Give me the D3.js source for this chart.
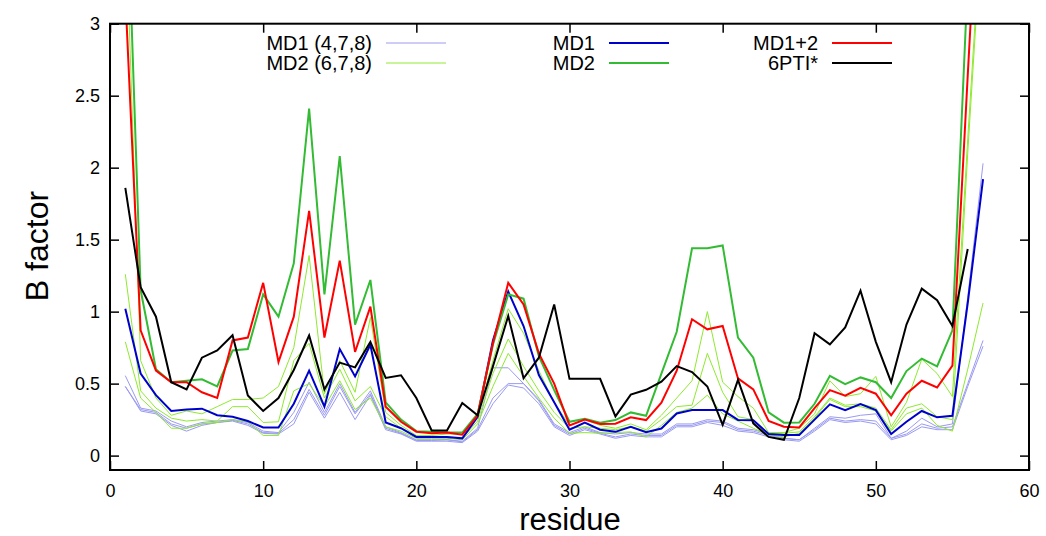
<!DOCTYPE html>
<html>
<head>
<meta charset="utf-8">
<script src="https://cdn.jsdelivr.net/npm/d3@7"></script>
<style>
  body { margin: 0; background: #fff; }
  svg { display: block; font-family: "Liberation Sans", Arial, sans-serif; }
</style>
</head>
<body>
<svg id="chart" width="1046" height="536"></svg>
<script>
// residue numbers
const residues = [1,2,3,4,5,6,7,8,9,10,11,12,13,14,15,16,17,18,19,20,21,22,23,24,25,26,27,28,29,30,
  31,32,33,34,35,36,37,38,39,40,41,42,43,44,45,46,47,48,49,50,51,52,53,54,55,56,57]

// MD1 runs 4,7,8 (thin)
const md1Run4 = [0.555,0.33,0.31,0.24,0.20,0.23,0.24,0.25,0.23,0.17,0.16,0.30,0.51,0.30,0.50,0.30,0.45,0.20,0.16,0.11,
  0.11,0.11,0.10,0.19,0.61,0.61,0.50,0.39,0.22,0.16,0.20,0.16,0.15,0.16,0.15,0.15,0.22,0.22,0.25,0.24,
  0.19,0.18,0.15,0.12,0.11,0.19,0.27,0.26,0.28,0.29,0.12,0.17,0.26,0.20,0.22,1.10,2.03]
const md1Run7 = [0.48,0.32,0.30,0.22,0.19,0.22,0.23,0.245,0.22,0.16,0.155,0.25,0.46,0.28,0.48,0.29,0.43,0.19,0.155,0.105,
  0.105,0.11,0.095,0.18,0.40,0.50,0.50,0.38,0.21,0.15,0.19,0.155,0.13,0.15,0.14,0.14,0.21,0.21,0.24,0.23,
  0.18,0.17,0.14,0.12,0.11,0.18,0.26,0.24,0.25,0.24,0.12,0.15,0.22,0.19,0.20,0.50,0.80]
const md1Run8 = [0.48,0.31,0.29,0.21,0.17,0.21,0.23,0.24,0.21,0.155,0.15,0.22,0.44,0.26,0.44,0.25,0.42,0.18,0.15,0.10,
  0.10,0.10,0.09,0.17,0.36,0.49,0.47,0.36,0.20,0.14,0.18,0.15,0.12,0.14,0.13,0.13,0.20,0.20,0.23,0.21,
  0.17,0.16,0.13,0.11,0.10,0.17,0.25,0.23,0.24,0.22,0.11,0.14,0.20,0.18,0.18,0.48,0.76]

// MD2 runs 6,7,8 (thin)
const md2Run6 = [3.8,0.66,0.40,0.28,0.31,0.29,0.34,0.39,0.39,0.40,0.48,0.75,1.39,0.43,0.66,0.44,0.96,0.30,0.21,0.14,
  0.14,0.15,0.15,0.27,0.66,1.02,0.85,0.59,0.37,0.21,0.25,0.21,0.19,0.22,0.18,0.28,0.40,0.52,1.00,0.51,
  0.41,0.33,0.16,0.16,0.19,0.29,0.52,0.41,0.43,0.55,0.20,0.37,0.67,0.57,0.41,2.2,3.9]
const md2Run7 = [1.26,0.45,0.33,0.26,0.24,0.25,0.24,0.34,0.34,0.23,0.235,0.66,0.78,0.40,0.60,0.38,0.48,0.27,0.19,0.13,
  0.13,0.13,0.12,0.24,0.57,0.81,0.62,0.45,0.30,0.19,0.20,0.19,0.18,0.20,0.17,0.25,0.34,0.35,0.71,0.44,
  0.27,0.25,0.155,0.155,0.165,0.27,0.40,0.35,0.36,0.33,0.18,0.33,0.36,0.27,0.25,2.1,3.8]
const md2Run8 = [0.79,0.40,0.30,0.19,0.19,0.22,0.23,0.25,0.235,0.14,0.14,0.45,0.50,0.34,0.52,0.32,0.40,0.20,0.17,0.12,
  0.12,0.12,0.11,0.22,0.48,0.71,0.55,0.40,0.26,0.155,0.16,0.155,0.16,0.165,0.13,0.21,0.30,0.33,0.42,0.29,
  0.24,0.19,0.145,0.13,0.155,0.26,0.39,0.34,0.34,0.31,0.17,0.29,0.33,0.21,0.17,0.60,1.06]

// averages
const md1 = [1.02,0.57,0.42,0.31,0.32,0.326,0.28,0.27,0.24,0.195,0.195,0.36,0.59,0.34,0.74,0.55,0.77,0.23,0.19,0.13,
  0.13,0.13,0.12,0.27,0.80,1.14,0.90,0.56,0.37,0.18,0.23,0.18,0.165,0.2,0.163,0.188,0.293,0.316,0.316,0.316,
  0.248,0.245,0.15,0.143,0.143,0.25,0.356,0.316,0.358,0.316,0.15,0.235,0.31,0.266,0.277,1.06,1.92]
const md2 = [4.3,1.15,0.60,0.51,0.52,0.53,0.48,0.73,0.74,1.12,0.965,1.336,2.41,1.12,2.08,0.91,1.22,0.37,0.25,0.17,
  0.165,0.16,0.16,0.29,0.77,1.12,1.09,0.69,0.455,0.235,0.256,0.229,0.247,0.30,0.277,0.57,0.86,1.44,1.44,1.46,
  0.82,0.68,0.30,0.229,0.23,0.36,0.554,0.497,0.543,0.51,0.40,0.587,0.674,0.62,0.87,3.3,4.5]
const md12 = [3.2,0.87,0.59,0.51,0.51,0.44,0.40,0.80,0.82,1.20,0.65,0.965,1.70,0.82,1.354,0.72,1.035,0.34,0.235,0.166,
  0.155,0.16,0.145,0.28,0.78,1.20,1.05,0.71,0.50,0.21,0.25,0.22,0.222,0.266,0.247,0.367,0.59,0.947,0.877,0.90,
  0.536,0.46,0.24,0.20,0.196,0.33,0.455,0.416,0.47,0.43,0.28,0.43,0.52,0.473,0.625,2.64,4.6]
// crystal structure, residues 1-56
const pti = [1.86,1.17,0.965,0.51,0.46,0.68,0.73,0.836,0.417,0.31,0.40,0.595,0.834,0.46,0.646,0.613,0.79,0.54,0.558,0.40,
  0.175,0.175,0.365,0.28,0.62,0.97,0.537,0.68,1.05,0.533,0.533,0.533,0.272,0.424,0.457,0.514,0.622,0.58,0.48,0.213,
  0.526,0.224,0.13,0.11,0.40,0.85,0.773,0.89,1.146,0.79,0.51,0.91,1.16,1.08,0.90,1.435]

const xTicks = [0, 10, 20, 30, 40, 50, 60]
const yTicks = [0, 0.5, 1, 1.5, 2, 2.5, 3]

const colPurple = '#9a9af0'
const colLime = '#8eea2e'

const series = [
  { name: 'MD1 (4,7,8)', values: md1Run4, color: colPurple, width: 1 },
  { values: md1Run7, color: colPurple, width: 1 },
  { values: md1Run8, color: colPurple, width: 1 },
  { name: 'MD2 (6,7,8)', values: md2Run6, color: colLime, width: 1 },
  { values: md2Run7, color: colLime, width: 1 },
  { values: md2Run8, color: colLime, width: 1 },
  { name: 'MD1', values: md1, color: '#0000cc', width: 2 },
  { name: 'MD2', values: md2, color: '#33bb33', width: 2 },
  { name: 'MD1+2', values: md12, color: '#ff0000', width: 2 },
  { name: '6PTI*', values: pti, color: '#000000', width: 2 }
]

const margin = { left: 110, right: 1029, top: 23.7, bottom: 470 }

const svg = d3.select('#chart')
const x = d3.scaleLinear().domain([0, 60]).range([margin.left, margin.right])
const y = d3.scaleLinear().domain([-0.1, 3]).range([margin.bottom, margin.top])

svg.append('defs').append('clipPath').attr('id', 'plotClip')
  .append('rect')
  .attr('x', margin.left).attr('y', margin.top)
  .attr('width', margin.right - margin.left).attr('height', margin.bottom - margin.top)

// axes with inward ticks
const tickLen = 9
const bottomAxis = svg.append('g')
  .attr('transform', `translate(0,${margin.bottom})`)
  .call(d3.axisBottom(x).tickValues(xTicks).tickSizeInner(-tickLen).tickSizeOuter(0).tickPadding(14))
const topAxis = svg.append('g')
  .attr('transform', `translate(0,${margin.top})`)
  .call(d3.axisTop(x).tickValues(xTicks).tickSizeInner(-tickLen).tickSizeOuter(0).tickFormat(''))
const leftAxis = svg.append('g')
  .attr('transform', `translate(${margin.left},0)`)
  .call(d3.axisLeft(y).tickValues(yTicks).tickSizeInner(-tickLen).tickSizeOuter(0).tickPadding(10).tickFormat(d3.format('')))
const rightAxis = svg.append('g')
  .attr('transform', `translate(${margin.right},0)`)
  .call(d3.axisRight(y).tickValues(yTicks).tickSizeInner(-tickLen).tickSizeOuter(0).tickFormat(''))

;[bottomAxis, topAxis, leftAxis, rightAxis].forEach(a => {
  a.select('.domain').remove()
  a.selectAll('.tick line').attr('stroke', '#000').attr('stroke-width', 1.5)
  a.selectAll('text').attr('font-size', 18).attr('fill', '#000')
    .attr('font-family', '"Liberation Sans", Arial, sans-serif')
})

// lines
const line = d3.line()
  .x((d, i) => x(residues[i]))
  .y(d => y(d))

const plot = svg.append('g').attr('clip-path', 'url(#plotClip)')
series.forEach(s => {
  plot.append('path')
    .datum(s.values)
    .attr('d', line)
    .attr('fill', 'none')
    .attr('stroke', s.color)
    .attr('stroke-width', s.width)
    .attr('stroke-linejoin', 'miter')
})

// frame
svg.append('rect')
  .attr('x', margin.left).attr('y', margin.top)
  .attr('width', margin.right - margin.left).attr('height', margin.bottom - margin.top)
  .attr('fill', 'none').attr('stroke', '#000').attr('stroke-width', 2)

// axis titles
svg.append('text')
  .attr('x', 570).attr('y', 530)
  .attr('text-anchor', 'middle')
  .attr('font-size', 31)
  .text('residue')
svg.append('text')
  .attr('transform', 'translate(48,246) rotate(-90)')
  .attr('text-anchor', 'middle')
  .attr('font-size', 32)
  .text('B factor')

// legend, three columns
const legendCols = [
  { textRight: 372, lineX: [386, 446] },
  { textRight: 595, lineX: [609, 669] },
  { textRight: 818, lineX: [832, 892] }
]
const legendRows = [43, 63]
const named = series.filter(s => s.name)
named.forEach((s, i) => {
  const col = legendCols[Math.floor(i / 2)]
  const yy = legendRows[i % 2]
  svg.append('text')
    .attr('x', col.textRight).attr('y', yy)
    .attr('dy', '0.35em')
    .attr('text-anchor', 'end')
    .attr('font-size', 20)
    .text(s.name)
  svg.append('line')
    .attr('x1', col.lineX[0]).attr('x2', col.lineX[1])
    .attr('y1', yy).attr('y2', yy)
    .attr('stroke', s.color)
    .attr('stroke-width', s.width)
})
</script>
</body>
</html>
